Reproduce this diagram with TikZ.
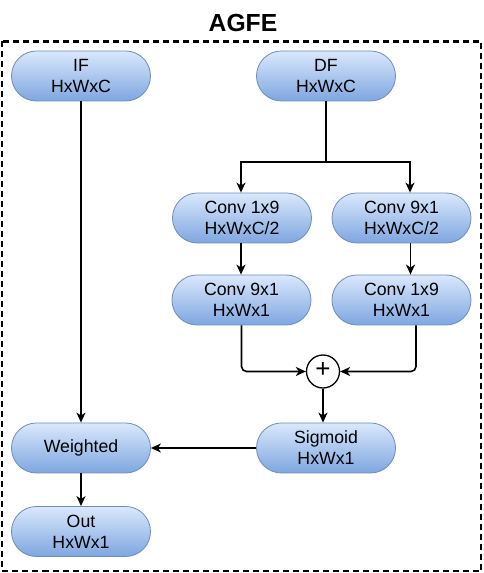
\documentclass[tikz,border=0pt]{standalone}
\usepackage{fontspec}
\setmainfont{Liberation Sans}
\usetikzlibrary{arrows.meta,calc}
\definecolor{blktop}{HTML}{DAE8FC}
\definecolor{blkbot}{HTML}{7EA6E0}
\definecolor{blkline}{HTML}{6C8EBF}
\newcommand\lbl{\fontsize{17.7}{21}\selectfont}
\tikzset{
	blk/.style={draw=blkline, line width=0.8pt, rounded corners=24.9pt, minimum width=139pt, minimum height=50pt, inner sep=0pt, top color=blktop, bottom color=blkbot, align=center, font=\lbl},
	link/.style={line width=1.6pt, -{Stealth[length=10pt,width=9pt,inset=3pt]}},
}

\begin{document}
\begin{tikzpicture}[x=1pt, y=1pt]
			%%%%% START %%%%%
			
			\useasboundingbox (0, 0) rectangle (483, 573);
			\fill[white] (0, 0) rectangle (483, 573);
			
			\draw[line width=2.2pt, dash pattern=on 6pt off 4pt] (2, 531.5) rectangle (481, 2);
			\node[anchor=base, font=\fontsize{24.7}{28}\selectfont\bfseries] (title) at (243, 541.3) {AGFE};
			
			\node[blk] (inF) at (81, 497) {IF\\HxWxC};
			\node[blk] (dF) at (326, 497) {DF\\HxWxC};
			
			\node[blk] (convA) at (242, 355) {Conv 1x9\\HxWxC/2};
			\node[blk] (convB) at (401.5, 355) {Conv 9x1\\HxWxC/2};
			\node[blk] (convC) at (241.5, 273) {Conv 9x1\\HxWx1};
			\node[blk] (convD) at (401.5, 273) {Conv 1x9\\HxWx1};
			
			\node[draw, circle, line width=1.3pt, minimum size=33pt, inner sep=0pt] (sum) at (323, 201.5) {};
			\node[font=\fontsize{26}{26}\selectfont, inner sep=0pt] (sumtxt) at ($(sum.center) + (0, 1.5)$) {+};
			
			\node[blk] (sig) at (326, 125) {Sigmoid\\HxWx1};
			\node[blk] (wgt) at (81, 125) {Weighted};
			\node[blk] (out) at (81, 41.5) {Out\\HxWx1};
			
			\coordinate (split) at ($(dF.south) + (0, -60.5)$);
			
			\draw[line width=1.6pt] (dF.south) -- (split);
			\draw[link] (split) -| ([xshift=-1pt]convA.north);
			\draw[link] (split) -| ([xshift=8.5pt]convB.north);
			
			\draw[link] ([xshift=-1pt]convA.south) -- ([xshift=-1pt]convA.south |- convC.north);
			\draw[link] ([xshift=9pt]convB.south) -- ([xshift=9pt]convB.south |- convD.north);
			
			\draw[link, rounded corners=5pt] (convC.south) |- (sum.west);
			\draw[link, rounded corners=5pt] ([xshift=14.5pt]convD.south) |- (sum.east);
			
			\draw[link] (sum.south) -- (sum.south |- sig.north);
			\draw[link] (sig.west) -- (wgt.east);
			\draw[link] (inF.south) -- (wgt.north);
			\draw[link] (wgt.south) -- (out.north);
			
			%%%%% END %%%%%
\end{tikzpicture}
\end{document}
